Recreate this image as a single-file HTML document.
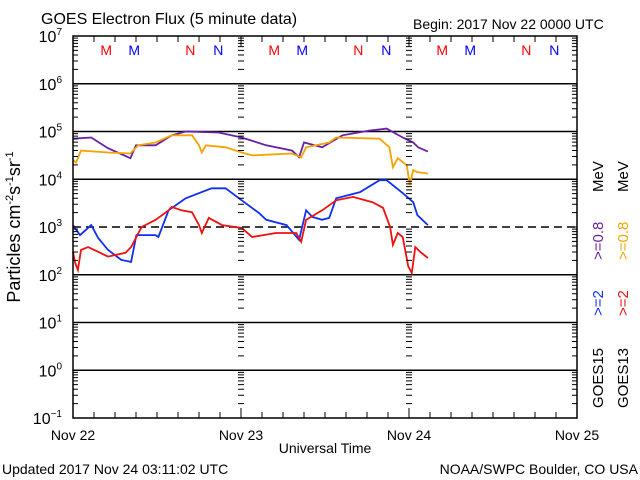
<!DOCTYPE html>
<html><head><meta charset="utf-8"><style>
body{margin:0;background:#fff}
svg{display:block;font-family:"Liberation Sans",sans-serif}
</style></head><body>
<svg id="chart" width="640" height="480" viewBox="0 0 640 480" xmlns="http://www.w3.org/2000/svg">
<rect width="640" height="480" fill="#fff"/>
<text x="41" y="24" font-size="16">GOES Electron Flux (5 minute data)</text>
<text x="413" y="29" font-size="14">Begin: 2017 Nov 22 0000 UTC</text>
<text x="2" y="474" font-size="14">Updated 2017 Nov 24 03:11:02 UTC</text>
<text x="638" y="474" font-size="14" text-anchor="end">NOAA/SWPC Boulder, CO USA</text>
<text x="325" y="453" font-size="14" text-anchor="middle">Universal Time</text>
<text transform="translate(20,227) rotate(-90)" font-size="18" text-anchor="middle">Particles cm<tspan dy="-7" font-size="11">-2</tspan><tspan dy="7">s</tspan><tspan dy="-7" font-size="11">-1</tspan><tspan dy="7">sr</tspan><tspan dy="-7" font-size="11">-1</tspan></text>
<g id="grid"></g><g id="series"></g><g id="axes"></g><g id="legend"></g>
</svg>
<script>
const decades=[7,6,5,4,3,2,1,0,-1];
const dayLabels=["Nov 22","Nov 23","Nov 24","Nov 25"];
const markerLetters=["M","M","N","N"];
const markerSats=["red","blue","red","blue"];
// series: hours since Nov 22 00:00 and log10 flux
const purpleH=[0,2.6,5,8.2,9,11.8,14.1,16.1,20.8,24.1,27.6,31.3,32.3,33,35.6,38.5,42.4,44.8,47.1,48.6,49.3,50.7];
const purpleV=[4.85,4.875,4.65,4.44,4.71,4.71,4.92,5.0,4.98,4.875,4.71,4.6,4.46,4.77,4.67,4.92,5.02,5.06,4.875,4.77,4.67,4.58];
const orangeH=[0,0.43,1.15,5.0,8.2,9.3,11.8,14.1,17.0,18.0,18.4,19.0,21.8,24.1,25.6,31.3,32.6,33.3,36.6,37.6,43.8,45.2,45.7,46.4,47.7,48.1,48.6,49.2,50.7];
const orangeV=[4.4,4.35,4.6,4.56,4.54,4.71,4.77,4.92,4.92,4.71,4.56,4.71,4.67,4.56,4.5,4.54,4.46,4.67,4.77,4.875,4.85,4.67,4.25,4.44,4.29,3.875,4.19,4.15,4.12];
const blueH=[0,1.0,2.6,3.6,5.0,6.9,8.3,9.05,11.8,12.2,13.65,16.1,19.8,21.8,24.1,26.6,27.6,30.5,32.3,33.3,34.2,35.6,36.6,37.6,41.0,43.8,44.8,47.1,48.6,49.2,50.7];
const blueV=[3.04,2.83,3.04,2.77,2.52,2.31,2.27,2.83,2.83,2.79,3.35,3.6,3.81,3.81,3.56,3.29,3.15,3.04,2.73,3.35,3.21,3.15,3.19,3.6,3.73,3.98,3.98,3.71,3.52,3.25,3.04];
const redH=[0,0.3,0.7,1.15,2.16,3.6,5.0,7.5,8.3,9.8,11.8,13.65,14.1,15.5,17.0,18.0,18.4,19.4,21.3,24.1,25.6,29.0,31.9,32.6,33.3,35.6,37.6,40.0,42.8,44.3,45.3,45.7,46.4,47.1,47.9,48.4,48.9,49.6,50.7];
const redV=[2.48,2.25,2.1,2.52,2.58,2.48,2.38,2.46,2.58,3.0,3.15,3.35,3.42,3.35,3.31,3.04,2.875,3.19,3.04,2.98,2.79,2.875,2.875,2.69,3.15,3.35,3.56,3.63,3.52,3.4,3.0,2.625,2.875,2.79,2.17,2.04,2.58,2.48,2.35];

const NS="http://www.w3.org/2000/svg";
const X0=73,X1=577,Y0=36,Y1=418;
const xs=h=>X0+(X1-X0)*h/72;
const ys=v=>Y0+(7-v)*(Y1-Y0)/8;
function mk(tag,attrs,parent,text){const e=document.createElementNS(NS,tag);for(const k in attrs)e.setAttribute(k,attrs[k]);if(text!==undefined)e.textContent=text;document.getElementById(parent).appendChild(e);return e;}

decades.forEach((d,i)=>{
  if(d===7||d===-1)return;
  const l=mk('line',{x1:X0,x2:X1,y1:ys(d),y2:ys(d),stroke:'#000','stroke-width':1.5,'stroke-dasharray':d===3?'8,5':'none'},'grid');
  
  
});
const box=mk('rect',{x:X0,y:Y0,width:X1-X0,height:Y1-Y0,fill:'none',stroke:'#000','stroke-width':1.5},'axes');


let tk='';
for(let d=-1;d<7;d++){for(let m=2;m<=9;m++){const y=ys(d+Math.log10(m));
  tk+=`M${X0} ${y}h5M${X1} ${y}h-5`;
  [1,2].forEach(k=>{const x=xs(24*k);tk+=`M${x-3} ${y}h6`;});
}}
decades.forEach(d=>{const y=ys(d);tk+=`M${X0} ${y}h8M${X1} ${y}h-8`;});
for(let h=3;h<72;h+=3){const x=xs(h);tk+=`M${x} ${Y1}v-6M${x} ${Y0}v6`;}
[1,2].forEach(k=>{const x=xs(24*k);tk+=`M${x} ${Y1}v-10M${x} ${Y0}v10`;});
const tp=mk('path',{d:tk,stroke:'#000','stroke-width':1,fill:'none'},'axes');


decades.forEach(d=>{
  const t=mk('text',{x:62,y:ys(d)+6,'font-size':16,'text-anchor':'end'},'axes','10');
  
  
  const s=document.createElementNS(NS,'tspan');s.setAttribute('dy','-7');s.setAttribute('font-size','10');s.textContent=String(d).replace('-','\u2212');t.appendChild(s);
});
dayLabels.forEach((lab,i)=>{
  const t=mk('text',{x:xs(24*i),y:440,'font-size':14,'text-anchor':'middle'},'axes',lab);
  
  
});
for(let day=0;day<3;day++){markerLetters.forEach((L,i)=>{
  const t=mk('text',{x:xs(24*day+4.75+4*i+(i>1?4:0)),y:55,'font-size':14,'text-anchor':'middle',fill:markerSats[i]},'axes',L);
  
  
});}
function series(H,V,color,name){
  const pts=H.map((h,i)=>xs(h).toFixed(1)+','+ys(V[i]).toFixed(1)).join(' ');
  const p=mk('polyline',{points:pts,fill:'none',stroke:color,'stroke-width':1.8,'stroke-linejoin':'miter'},'series');
  
  
}
series(purpleH,purpleV,'#6a1fa8','goes15-0p8mev-line');
series(orangeH,orangeV,'#f5a300','goes13-0p8mev-line');
series(blueH,blueV,'#1030f0','goes15-2mev-line');
series(redH,redV,'#f01010','goes13-2mev-line');
function vtext(x,y,txt,color,name){
  const t=mk('text',{transform:`translate(${x},${y}) rotate(-90)`,'font-size':15,fill:color},'legend',txt);
  
  
}
vtext(603,408,'GOES15','#000','legend-goes15');
vtext(628,408,'GOES13','#000','legend-goes13');
vtext(603,316,'>=2','#1030f0','legend-goes15-2mev');
vtext(628,316,'>=2','#f01010','legend-goes13-2mev');
vtext(603,260,'>=0.8','#6a1fa8','legend-goes15-0p8mev');
vtext(628,260,'>=0.8','#f5a300','legend-goes13-0p8mev');
vtext(603,192,'MeV','#000','legend-mev-1');
vtext(628,192,'MeV','#000','legend-mev-2');
</script>
</body></html>
